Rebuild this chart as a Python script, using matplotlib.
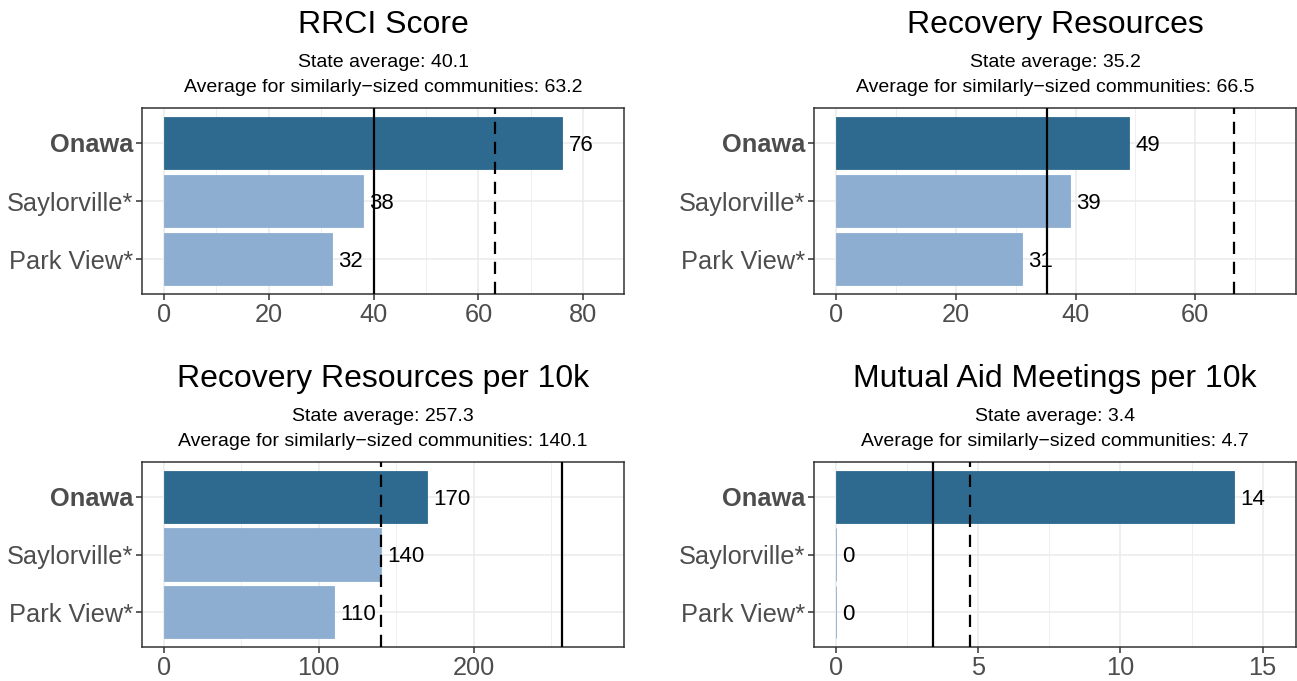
import matplotlib
matplotlib.use("Agg")
import matplotlib.pyplot as plt
from matplotlib.ticker import MultipleLocator
import numpy as np

plt.rcParams['font.family'] = ['Liberation Sans', 'DejaVu Sans']

communities = ["Onawa", "Saylorville*", "Park View*"]

titles = ["RRCI Score", "Recovery Resources",
          "Recovery Resources per 10k", "Mutual Aid Meetings per 10k"]
rrci_score = [76, 38, 32]
recovery_resources = [49, 39, 31]
resources_per_10k = [170, 140, 110]
meetings_per_10k = [14, 0, 0]
series = [rrci_score, recovery_resources, resources_per_10k, meetings_per_10k]

state_avg = [40.1, 35.2, 257.3, 3.4]
similar_avg = [63.2, 66.5, 140.1, 4.7]
tick_steps = [20, 20, 100, 5]

dark_blue = '#2E6A8F'
light_blue = '#8DAED1'
frame_col = '#333333'
grid_col = '#EBEBEB'

W, H = 1297, 681
fig = plt.figure(figsize=(W / 100, H / 100), dpi=100)

# axes boxes in pixels: left, top, right, bottom
boxes = [(142, 108, 624, 294), (814, 108, 1296, 294),
         (142, 462, 624, 647), (814, 462, 1296, 647)]


def draw_panel(box, title, values, state, similar, step):
    l, t, r, b = box
    ax = fig.add_axes([l / W, 1 - b / H, (r - l) / W, (b - t) / H])
    ypos = np.arange(len(communities))[::-1]
    colors = [dark_blue] + [light_blue] * (len(values) - 1)
    ax.barh(ypos, values, height=0.9, color=colors, edgecolor=colors,
            linewidth=0.6, zorder=2)
    for y, v in zip(ypos, values):
        ax.annotate(f"{v:g}", (v, y), xytext=(4.5, 0), textcoords='offset points',
                    ha='left', va='center_baseline', fontsize=16, color='black',
                    zorder=4)
    ax.axvline(state, color='black', lw=1.6, zorder=3)
    ax.axvline(similar, color='black', lw=1.6, ls=(0, (5.5, 3.5)), zorder=3)

    top = 1.1 * max(max(values), state, similar)
    ax.set_xlim(-0.05 * top, 1.05 * top)
    ax.set_ylim(-0.6, len(communities) - 0.4)
    ax.xaxis.set_major_locator(MultipleLocator(step))
    ax.xaxis.set_minor_locator(MultipleLocator(step / 2))
    ax.set_yticks(ypos)
    ax.set_yticklabels(communities)
    ax.get_yticklabels()[0].set_fontweight('bold')
    ax.tick_params(axis='both', which='major', labelsize=18.3, labelcolor='#4D4D4D',
                   color=frame_col, length=4, width=1.1, pad=2.5)
    ax.tick_params(axis='x', which='minor', length=0)
    ax.grid(which='major', color=grid_col, lw=1.1, zorder=0)
    ax.grid(which='minor', axis='x', color=grid_col, lw=0.55, zorder=0)
    ax.set_axisbelow(True)
    for s in ax.spines.values():
        s.set_color(frame_col)
        s.set_linewidth(1.1)

    cx = (l + r) / 2 / W
    fig.text(cx, 1 - (t - 75) / H, title, ha='center', va='baseline', fontsize=23)
    fig.text(cx, 1 - (t - 41) / H, f"State average: {state}", ha='center',
             va='baseline', fontsize=14)
    fig.text(cx, 1 - (t - 16) / H,
             f"Average for similarly\u2212sized communities: {similar}",
             ha='center', va='baseline', fontsize=14)


for box, title, vals, st, sim, step in zip(boxes, titles, series, state_avg,
                                           similar_avg, tick_steps):
    draw_panel(box, title, vals, st, sim, step)

fig.savefig("out.png", dpi=100)
